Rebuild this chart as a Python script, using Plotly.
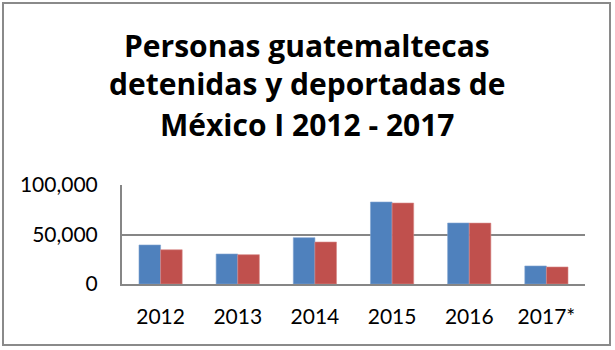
import plotly.graph_objects as go

years = ["2012", "2013", "2014", "2015", "2016", "2017*"]
detenidas = [39400, 30300, 46800, 82800, 61600, 18200]
deportadas = [34600, 29600, 42400, 81800, 61500, 17200]
y_ticks = [0, 50000, 100000]
y_tick_labels = ["0", "50,000", "100,000"]
title_lines = ["Personas guatemaltecas", "detenidas y deportadas de", "México I 2012 - 2017"]

FONT = "Lato"
TITLE_FONT = "Open Sans"
W, H = 615, 350
L, R, T, B = 122, 30, 185, 66

fig = go.Figure()
fig.add_trace(go.Bar(x=years, y=detenidas, name="Detenidas",
                     marker=dict(color="#4F81BD", line=dict(color="#7FA2D0", width=0.6))))
fig.add_trace(go.Bar(x=years, y=deportadas, name="Deportadas",
                     marker=dict(color="#C0504D", line=dict(color="#D68A88", width=0.6))))

pw = W - L - R
ph = H - T - B


def px_x(x):
    return (x - L) / pw


def px_y(y):
    return (H - B - y) / ph


title_y = [45, 84, 124]
annotations = []
for line, yc in zip(title_lines, title_y):
    annotations.append(dict(
        text="<b>%s</b>" % line, xref="paper", yref="paper",
        x=px_x(307), y=px_y(yc), xanchor="center", yanchor="middle",
        showarrow=False, font=dict(family=TITLE_FONT, size=30, color="black"),
    ))

fig.update_layout(
    width=W, height=H,
    margin=dict(l=L, r=R, t=T, b=B),
    paper_bgcolor="white", plot_bgcolor="white",
    showlegend=False,
    barmode="group", bargap=0.44, bargroupgap=0,
    font=dict(family=FONT, color="black", size=21),
    annotations=annotations,
    xaxis=dict(showgrid=False, showline=True, linecolor="#868686", linewidth=2,
               ticks="", tickfont=dict(size=21), ticklabelstandoff=13, fixedrange=True),
    yaxis=dict(range=[0, 100000], tickvals=y_ticks, ticktext=y_tick_labels,
               showgrid=True, gridcolor="#868686", gridwidth=2,
               showline=True, linecolor="#868686", linewidth=2,
               zeroline=False, ticks="", tickfont=dict(size=21),
               ticklabelstandoff=18, fixedrange=True),
    shapes=[dict(type="rect", xref="paper", yref="paper",
                 x0=px_x(3), x1=px_x(610), y0=px_y(345), y1=px_y(3),
                 line=dict(color="#8A8A8A", width=2), layer="below")],
)

fig.write_html("out.html")
